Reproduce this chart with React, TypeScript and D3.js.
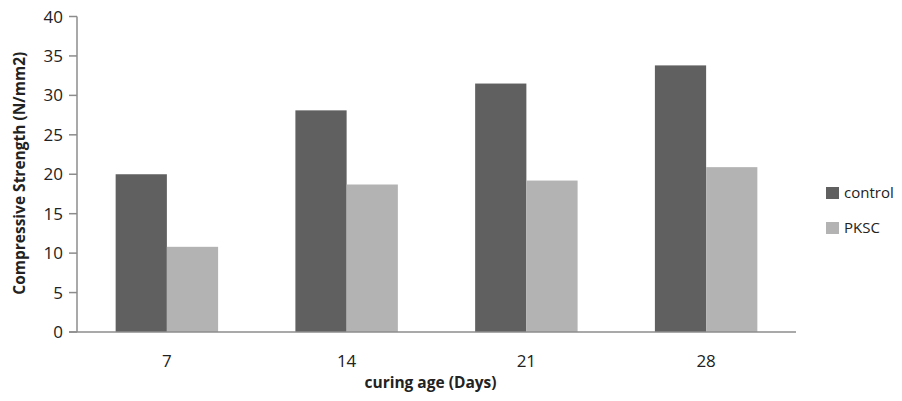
import { useEffect, useRef } from 'react';
import * as d3 from 'd3';

// curing age in days
const ages = ['7', '14', '21', '28'];
const seriesNames = ['control', 'PKSC'];
const control = [20, 28.1, 31.5, 33.8];
const pksc = [10.8, 18.7, 19.2, 20.9];
const yTicks = [0, 5, 10, 15, 20, 25, 30, 35, 40];
const colors = ['#606060', '#b3b3b3'];

export default function App() {
  const svgRef = useRef<SVGSVGElement>(null);

  useEffect(() => {
    if (!svgRef.current) return;
    const svg = d3.select(svgRef.current);
    svg.selectAll('*').remove();

    const w = 902, h = 401;
    const m = { t: 16.5, r: 106, b: 69, l: 77 };
    const iw = w - m.l - m.r, ih = h - m.t - m.b;
    const font = '"Open Sans", sans-serif';
    const textColor = '#222';
    const axisColor = '#8c8c8c';

    const g = svg.append('g').attr('transform', `translate(${m.l},${m.t})`);
    const x0 = d3.scaleBand().domain(ages).range([0, iw]).paddingInner(0.43).paddingOuter(0.215);
    const x1 = d3.scaleBand().domain(seriesNames).range([0, x0.bandwidth()]);
    const y = d3.scaleLinear().domain([0, 40]).range([ih, 0]);

    const rows = ages.map((a, i) => ({ age: a, vals: [control[i], pksc[i]] }));

    // bars
    const grp = g.selectAll('g.grp').data(rows).enter().append('g')
      .attr('transform', d => `translate(${x0(d.age)},0)`);
    grp.selectAll('rect').data(d => d.vals.map((v, k) => ({ v, k }))).enter().append('rect')
      .attr('x', d => x1(seriesNames[d.k])!)
      .attr('y', d => y(d.v))
      .attr('width', x1.bandwidth())
      .attr('height', d => ih - y(d.v))
      .attr('fill', d => colors[d.k]);

    // y axis
    g.append('line').attr('x1', 0).attr('x2', 0).attr('y1', 0).attr('y2', ih)
      .attr('stroke', axisColor).attr('stroke-width', 1.5);
    yTicks.forEach(t => {
      g.append('line').attr('x1', -8).attr('x2', 0).attr('y1', y(t)).attr('y2', y(t))
        .attr('stroke', axisColor).attr('stroke-width', 1.5);
      g.append('text').attr('x', -14).attr('y', y(t)).attr('dy', '0.36em')
        .attr('text-anchor', 'end').attr('font-family', font).attr('font-size', 17)
        .attr('fill', textColor).text(t);
    });

    // x axis
    g.append('line').attr('x1', -8).attr('x2', iw).attr('y1', ih).attr('y2', ih)
      .attr('stroke', axisColor).attr('stroke-width', 1.5);
    ages.forEach(a => {
      g.append('text').attr('x', x0(a)! + x0.bandwidth() / 2).attr('y', ih + 35)
        .attr('text-anchor', 'middle').attr('font-family', font).attr('font-size', 17)
        .attr('fill', textColor).text(a);
    });

    // titles
    g.append('text').attr('x', iw / 2 - 6).attr('y', ih + 56)
      .attr('text-anchor', 'middle').attr('font-family', font).attr('font-size', 15.5)
      .attr('font-weight', 'bold').attr('fill', textColor).text('curing age (Days)');
    svg.append('text').attr('transform', `translate(25,${m.t + ih / 2 - 1}) rotate(-90)`)
      .attr('text-anchor', 'middle').attr('font-family', font).attr('font-size', 15.5)
      .attr('font-weight', 'bold').attr('fill', textColor).text('Compressive Strength (N/mm2)');

    // legend
    const lg = svg.append('g').attr('transform', 'translate(826,187)');
    seriesNames.forEach((s, i) => {
      lg.append('rect').attr('x', 0).attr('y', i * 35).attr('width', 13).attr('height', 12)
        .attr('fill', colors[i]);
      lg.append('text').attr('x', 18).attr('y', i * 35 + 6).attr('dy', '0.36em')
        .attr('font-family', font).attr('font-size', 15).attr('fill', textColor).text(s);
    });
  }, []);

  return <svg ref={svgRef} width={902} height={401} style={{ display: 'block', margin: '-8px' }} />;
}
